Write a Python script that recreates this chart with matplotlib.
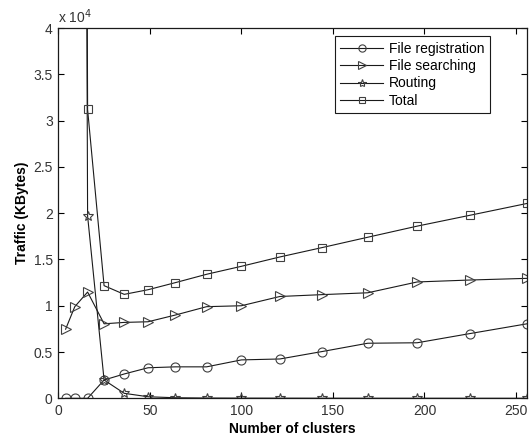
#!/usr/bin/env python3
"""
Traffic vs number of clusters (MATLAB-style line chart)
"""

import matplotlib
matplotlib.use('Agg')
import matplotlib.pyplot as plt
from matplotlib.ticker import FuncFormatter, MultipleLocator

# number of clusters (x axis)
clusters = [4, 9, 16, 25, 36, 49, 64, 81, 100, 121, 144, 169, 196, 225, 256]

# traffic in KBytes
file_registration = [0, 0, 0, 1980, 2630, 3300, 3400, 3400, 4150,
                     4250, 5050, 5950, 6000, 7000, 8050]
file_searching = [7470, 9900, 11480, 8050, 8200, 8270, 9000, 9900, 10000,
                  11000, 11200, 11400, 12570, 12780, 12960]
routing = [1250000, 390000, 19700, 1980, 540, 170, 60, 30, 20,
           15, 10, 8, 6, 5, 4]
total = [1257470, 399900, 31200, 12170, 11230, 11730, 12500, 13400, 14260,
         15270, 16280, 17400, 18600, 19780, 21050]

series_labels = ['File registration', 'File searching', 'Routing', 'Total']
series_markers = ['o', '>', '*', 's']
series_sizes = [6.5, 7.5, 7.5, 6]

x_ticks = [0, 50, 100, 150, 200, 250]


def main():
    plt.rcParams['font.family'] = ['Liberation Sans', 'DejaVu Sans']

    fig = plt.figure(figsize=(5.31, 4.38), dpi=100)
    ax = fig.add_axes([0.1098, 0.0906, 0.8827, 0.8454])

    all_series = [file_registration, file_searching, routing, total]
    for values, label, marker, size in zip(all_series, series_labels,
                                           series_markers, series_sizes):
        ax.plot(clusters, values, color='0.1', linewidth=0.8,
                marker=marker, markersize=size, markerfacecolor='none',
                markeredgecolor='0.25', markeredgewidth=0.8, label=label)

    ax.set_xlim(0, 256)
    ax.set_ylim(0, 40000)
    ax.set_xticks(x_ticks)
    ax.yaxis.set_major_locator(MultipleLocator(5000))
    ax.yaxis.set_major_formatter(FuncFormatter(lambda v, p: f'{v / 1e4:g}'))

    # MATLAB 스타일: 네 방향 안쪽 눈금
    ax.tick_params(direction='in', top=True, right=True, length=4,
                   width=0.8, labelsize=10, labelcolor='0.2', pad=4)
    for spine in ax.spines.values():
        spine.set_linewidth(0.9)
        spine.set_color('0.1')

    ax.text(0.0, 1.006, r'x 10$^4$', transform=ax.transAxes, ha='left',
            va='bottom', fontsize=10, color='0.2')

    ax.set_xlabel('Number of clusters', fontsize=10, fontweight='bold',
                  labelpad=3)
    ax.set_ylabel('Traffic (KBytes)', fontsize=10, fontweight='bold',
                  labelpad=3)

    leg = ax.legend(loc='upper right', bbox_to_anchor=(0.921, 0.978),
                    borderaxespad=0, fancybox=False, framealpha=1,
                    edgecolor='0.1', fontsize=10, handlelength=3.1,
                    handletextpad=0.4, labelspacing=0.24, borderpad=0.4,
                    markerscale=0.8)
    leg.get_frame().set_linewidth(0.8)

    fig.savefig('out.png', dpi=100)


if __name__ == '__main__':
    main()
